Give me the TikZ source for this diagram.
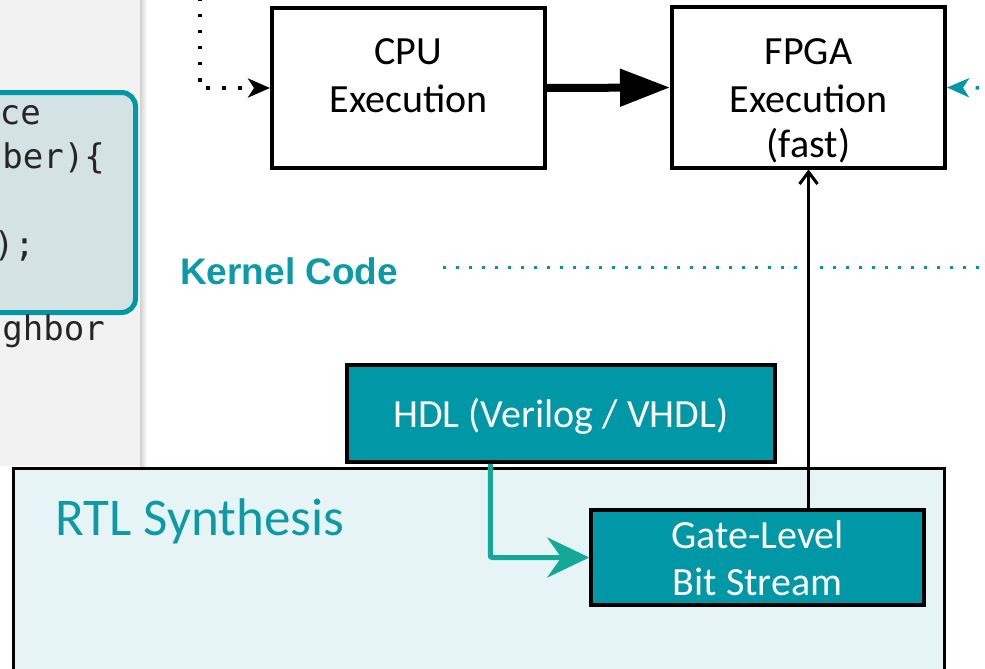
\documentclass[tikz,border=0pt]{standalone}
\usepackage{fontspec}
\setmainfont{Carlito}
\newfontfamily\kernfont{Liberation Sans}
\newfontfamily\codefont{DejaVu Sans Mono}
\usetikzlibrary{arrows.meta}
\definecolor{tealbox}{HTML}{0097A7}
\definecolor{tealtxt}{HTML}{0C9AA6}
\definecolor{rtlfill}{HTML}{E6F4F5}
\definecolor{codefill}{HTML}{D4E2E4}
\definecolor{panel}{HTML}{F2F2F2}
\definecolor{garrowc}{HTML}{14A898}
\tikzset{
  bigbox/.style={draw=black, line width=4pt, fill=white, minimum width=273pt, minimum height=160pt, inner sep=0pt},
  tealnode/.style={draw=black, line width=3.5pt, fill=tealbox, inner sep=0pt},
  boxtxt/.style={font=\fontsize{40}{47}\selectfont, anchor=base, inner sep=0pt},
  whitetxt/.style={font=\fontsize{40}{47}\selectfont, anchor=base, inner sep=0pt, text=white},
  codetxt/.style={font=\codefont\fontsize{34}{44}\selectfont, anchor=base east, inner sep=0pt, text=black!85},
  dotline/.style={line width=3.5pt, dash pattern=on 3.5pt off 12.5pt},
}
\begin{document}
\begin{tikzpicture}[x=1pt,y=-1pt]
\useasboundingbox (0,0) rectangle (985,669);
\clip (0,0) rectangle (985,669);
% left panel
\fill[panel] (0,0) rectangle (140,466);
\shade[left color=black!18, right color=white] (140,0) rectangle (147,466);
\node[draw=tealbox, line width=5pt, fill=codefill, rounded corners=14pt, minimum width=190pt, minimum height=220pt, anchor=north east, inner sep=0pt] (code) at (138,90) {};
\node[codetxt] (c1) at (41,124) {ce};
\node[codetxt] (c2) at (105,168) {ber)\{};
\node[codetxt] (c3) at (35,256) {);};
\node[codetxt] (c4) at (105,340) {ghbor};
% top boxes
\node[bigbox] (cpu) at (408.5,88) {};
\node[boxtxt] (cpu1) at (408.5,65) {CPU};
\node[boxtxt] (cpu2) at (408.5,112) {Execution};
\node[bigbox] (fpga) at (808.5,87.5) {};
\node[boxtxt] (f1) at (808.5,65) {FPGA};
\node[boxtxt] (f2) at (808.5,112) {Execution};
\node[boxtxt] (f3) at (808.5,157) {(fast)};
% arrows top
\coordinate (dtop) at (200,-2);
\draw[dotline, -{Stealth[length=22pt,width=19pt,inset=6pt]}] (dtop) |- (cpu.west);
\draw[line width=8pt, -{Triangle[length=50pt,width=36pt]}] (cpu.east) -- (fpga.west);
\coordinate (rin) at (995,88);
\draw[tealbox, dotline, -{Stealth[length=22pt,width=19pt,inset=6pt]}] (rin) -- (fpga.east);
% kernel code
\node[font=\kernfont\bfseries\fontsize{37}{40}\selectfont, text=tealtxt, anchor=base west, inner sep=0pt] (kc) at (180,284) {Kernel Code};
\coordinate (kl) at (443,267);
\coordinate (kr) at (990,267);
\draw[tealbox, line width=3pt, dash pattern=on 3pt off 10pt] (kl) -- (kr);
% RTL synthesis container
\node[draw=black, line width=3pt, fill=rtlfill, minimum width=931pt, minimum height=260pt, anchor=north west, inner sep=0pt] (rtl) at (12,467) {};
\node[font=\fontsize{53}{60}\selectfont, text=tealtxt, anchor=base west, inner sep=0pt] (rtltxt) at (55,535) {RTL Synthesis};
% HDL box
\node[tealnode, minimum width=428pt, minimum height=97pt] (hdl) at (561,413.5) {};
\node[whitetxt] (hdltxt) at (561,427) {HDL (Verilog / VHDL)};
% gate box
\node[tealnode, minimum width=333pt, minimum height=95pt] (gate) at (757.5,557.5) {};
\node[whitetxt] (g1) at (757.5,548) {Gate-Level};
\node[whitetxt] (g2) at (757.5,595) {Bit Stream};
% connectors
\draw[garrowc, line width=5pt, rounded corners=2pt, -{Stealth[length=42pt,width=40pt,inset=14pt]}] ([xshift=145pt]hdl.south west) |- (gate.west);
\draw[black, line width=3pt, -{Straight Barb[length=12pt,width=18pt]}] (gate.north -| fpga.south) -- (fpga.south);
\end{tikzpicture}
\end{document}
